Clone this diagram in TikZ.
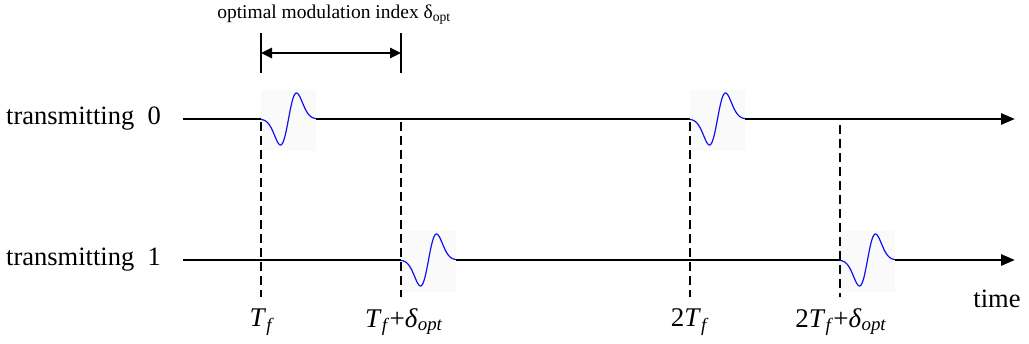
\documentclass[tikz,border=0pt]{standalone}
\usepackage{fontspec}
\setmainfont{Liberation Serif}
\usetikzlibrary{arrows.meta,positioning,calc}
\definecolor{pblue}{HTML}{1010F0}
\definecolor{pbg}{HTML}{FAFAFA}
\newcommand{\tsym}[2]{\textit{#1}\textsubscript{\textit{#2}}}
% one monocycle pulse, left end at (#1,#2)
\newcommand{\pulseat}[2]{%
  \fill[pbg] (#1,#2-29) rectangle (#1+55,#2+32);
  \draw[pulse] plot ({#1+27.5+\t},{#2-26*(\t/8)*exp(0.5-0.5*(\t/8)^2)});}

\begin{document}
\begin{tikzpicture}[x=1pt, y=-1pt,
  axis/.style={line width=2.8pt, black},
  axisend/.style={axis, -{Triangle[length=14pt, width=11pt]}},
  pulse/.style={pblue, line width=1.2pt, domain=-27.5:27.5, samples=90, variable=\t},
  guide/.style={line width=2pt, dash pattern=on 9pt off 5pt},
  bar/.style={line width=1.1pt},
  span/.style={line width=2.5pt, {Triangle[length=11pt, width=10pt]}-{Triangle[length=11pt, width=10pt]}},
  lbl/.style={font=\fontsize{26.5}{28}\selectfont, inner sep=2pt},
  tick/.style={font=\fontsize{27}{28}\selectfont, inner sep=2pt}]
  \useasboundingbox (0,0) rectangle (1029,343);
  % rows and time marks
  \coordinate (r0) at (183,119);
  \coordinate (r1) at (183,260);
  \coordinate (e0) at (1015,119);
  \coordinate (e1) at (1015,260);
  \coordinate (m1) at (261,297);
  \coordinate (m2) at (401,297);
  \coordinate (m3) at (690,297);
  \coordinate (m4) at (840,297);
  \node[lbl, anchor=east] (row0) at (163,119) {transmitting\ \ 0};
  \node[lbl, anchor=east] (row1) at (163,260) {transmitting\ \ 1};
  % pulses
  \pulseat{261}{119}
  \pulseat{690}{119}
  \pulseat{401}{260}
  \pulseat{840}{260}
  % time lines
  \draw[axis] (r0) -- (261,119);
  \draw[axis] (316,119) -- (690,119);
  \draw[axisend] (745,119) -- (e0);
  \draw[axis] (r1) -- (401,260);
  \draw[axis] (456,260) -- (840,260);
  \draw[axisend] (895,260) -- (e1);
  % dashed marks
  \draw[guide] (261,122) -- (m1);
  \draw[guide] (401,122) -- (m2);
  \draw[guide] (690,122) -- (m3);
  \draw[guide] (840,125) -- (m4);
  % span of delta_opt
  \coordinate (b1) at (261,33);
  \coordinate (b2) at (401,33);
  \draw[bar] (b1) -- ++(0,40);
  \draw[bar] (b2) -- ++(0,40);
  \draw[span] ($(b1)+(0,20)$) -- ($(b2)+(0,20)$);
  \node[font=\fontsize{19.5}{22}\selectfont, inner sep=1pt] (dlt) at (334,15) {optimal modulation index δ\textsubscript{opt}};
  % labels
  \node[tick] (tf) at (262,322) {\tsym{T}{f}};
  \node[tick] (tfd) at (404,322) {\tsym{T}{f}+\tsym{δ}{opt}};
  \node[tick] (ttf) at (690,322) {2\tsym{T}{f}};
  \node[tick] (ttfd) at (841,322) {2\tsym{T}{f}+\tsym{δ}{opt}};
  \node[lbl] (time) at (997,299) {time};
\end{tikzpicture}
\end{document}
